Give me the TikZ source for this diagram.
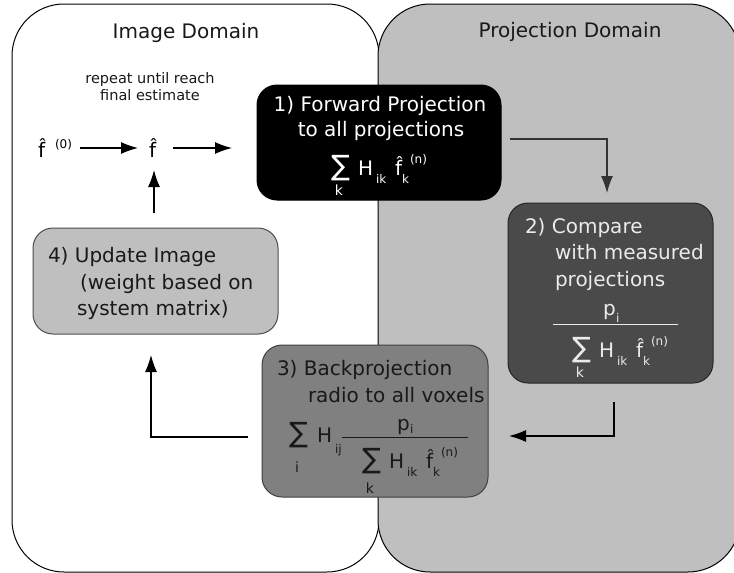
\documentclass[tikz,border=0pt]{standalone}
\usepackage{fontspec}
\setmainfont{DejaVu Sans}
\usetikzlibrary{arrows.meta,calc}
\newcommand\SumHF[3]{%
 \begin{scope}[shift={#1}]
 \node[sig,anchor=base west] (#3s) at (-1,0) {∑};
 \node[lim,anchor=base] (#3l) at (7,#2) {k};
 \node[big,anchor=base west] (#3H) at (26,0) {H};
 \node[small,anchor=base west] (#3ik) at (44,8) {ik};
 \node[big,anchor=base west] (#3f) at (63,0) {f̂};
 \node[small,anchor=base west] (#3k) at (70,8) {k};
 \node[small,anchor=base west] (#3n) at (78,-12) {(n)};
 \end{scope}}
\begin{document}
\begin{tikzpicture}[x=1pt,y=-1pt,
 every node/.style={inner sep=0pt,outer sep=0pt},
 big/.style={font=\fontsize{20}{24}\selectfont},
 sig/.style={font=\fontsize{28}{32}\selectfont},
 note/.style={font=\fontsize{14.5}{18}\selectfont},
 small/.style={font=\fontsize{12}{14}\selectfont},
 lim/.style={font=\fontsize{14}{16}\selectfont},
 panel/.style={draw=black,line width=1pt,rounded corners=52pt,rectangle},
 stepbox/.style={rectangle,rounded corners=20pt,line width=1pt},
 conn/.style={line width=1.2pt,-{Latex[length=17pt,width=12pt]}}]
\useasboundingbox (0,0) rectangle (734,573);
\clip (0,0) rectangle (734,573);
\fill[white] (0,0) rectangle (734,573);
% panels
\node[panel,fill=white,minimum width=367pt,minimum height=568pt] (img) at (195.5,288) {};
\node[panel,fill=black!25,minimum width=362pt,minimum height=568pt] (proj) at (559,288) {};
\node[big,anchor=base,text=black!90] (t1) at (186,38) {Image Domain};
\node[big,anchor=base,text=black!90] (t2) at (570,37) {Projection Domain};
% boxes
\node[stepbox,draw=black,fill=black,minimum width=244pt,minimum height=115pt] (b1) at (379,142.5) {};
\node[stepbox,draw=black!85,fill=black!71,minimum width=205pt,minimum height=180pt] (b2) at (610.5,293) {};
\node[stepbox,draw=black!75,fill=black!50,minimum width=226pt,minimum height=152pt] (b3) at (375,421) {};
\node[stepbox,draw=black!70,fill=black!25,minimum width=245pt,minimum height=106pt] (b4) at (155.5,281) {};
% box 1 text
\node[big,anchor=base,text=white] (b1a) at (380,111) {1) Forward Projection};
\node[big,anchor=base,text=white] (b1b) at (381,136) {to all projections};
\begin{scope}[every node/.append style={text=white}]
\SumHF{(332,175)}{20}{fa}
\end{scope}
% box 2 text
\begin{scope}[every node/.append style={text=black!8}]
\node[big,anchor=base west] (b2a) at (525,233) {2) Compare};
\node[big,anchor=base west] (b2b) at (555,259) {with measured};
\node[big,anchor=base west] (b2c) at (555,286) {projections};
\node[big,anchor=base west] (b2p) at (603,315) {p};
\node[small,anchor=base west] (b2i) at (616,322) {i};
\SumHF{(573,357)}{20}{fb}
\end{scope}
\draw[black!8,line width=1pt] (553,324) -- (678,324);
% box 3 text
\begin{scope}[every node/.append style={text=black!90}]
\node[big,anchor=base west] (b3a) at (277,375) {3) Backprojection};
\node[big,anchor=base west] (b3b) at (308,402) {radio to all voxels};
\node[sig,anchor=base west] (b3s) at (289,442) {∑};
\node[lim,anchor=base] (b3l) at (297,472) {i};
\node[big,anchor=base west] (b3H) at (317,442) {H};
\node[small,anchor=base west] (b3ij) at (335,453) {ij};
\node[big,anchor=base west] (b3p) at (397,430) {p};
\node[small,anchor=base west] (b3i) at (410,433) {i};
\SumHF{(363,468)}{25}{fc}
\end{scope}
\draw[black!90,line width=1pt] (342,437) -- (468,437);
% box 4 text
\begin{scope}[every node/.append style={text=black!90}]
\node[big,anchor=base west] (b4a) at (48,262) {4) Update Image};
\node[big,anchor=base west] (b4b) at (80,289) {(weight based on};
\node[big,anchor=base west] (b4c) at (77,315) {system matrix)};
\end{scope}
% notes
\node[note,anchor=base,text=black!90] (r1) at (150,83) {repeat until reach};
\node[note,anchor=base,text=black!90] (r2) at (150,100) {final estimate};
\node[big,anchor=base west] (f0) at (38,157) {f̂};
\node[small,anchor=base west] (f0s) at (55,148) {(0)};
\node[big,anchor=base west] (f1) at (149,157) {f̂};
% connectors
\coordinate (c1s) at (80,148); \coordinate (c1e) at (138,148);
\coordinate (c2s) at (173,148); \coordinate (c2e) at (232,148);
\coordinate (c3s) at (154,213); \coordinate (c3e) at (154,170);
\draw[conn] (c1s) -- (c1e);
\draw[conn] (c2s) -- (c2e);
\draw[conn] (c3s) -- (c3e);
\coordinate (a1s) at (510,139); \coordinate (a1e) at (607,193);
\coordinate (a2s) at (614,402); \coordinate (a2e) at (509,436);
\coordinate (a3s) at (248,437); \coordinate (a3e) at (151,355);
\draw[conn,draw=black!80] (a1s) -| (a1e);
\draw[conn] (a2s) |- (a2e);
\draw[conn] (a3s) -| (a3e);
\end{tikzpicture}
\end{document}
